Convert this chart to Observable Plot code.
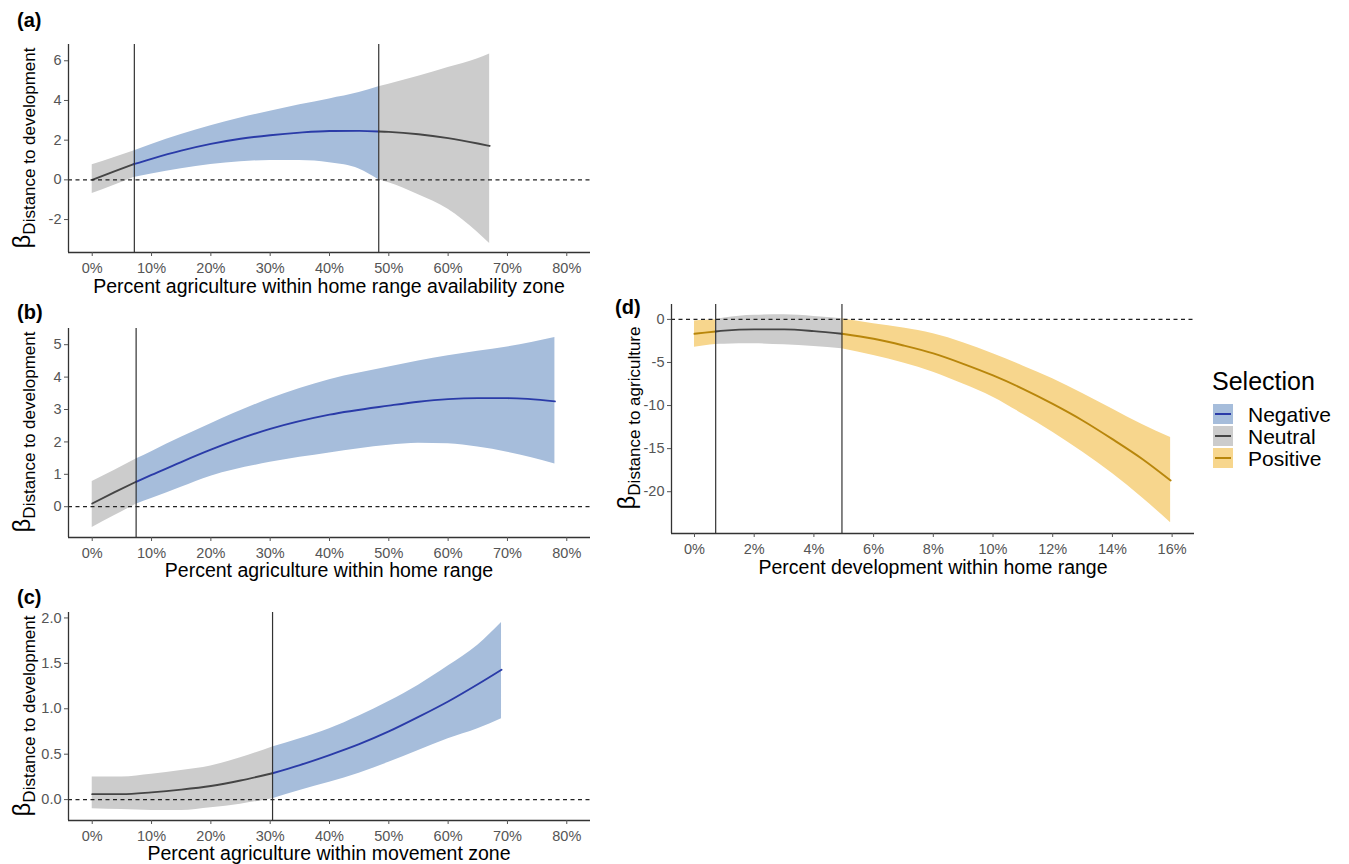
<!DOCTYPE html>
<html>
<head>
<meta charset="utf-8">
<script src="https://cdn.jsdelivr.net/npm/d3@7"></script>
<script src="https://cdn.jsdelivr.net/npm/@observablehq/plot@0.6"></script>
<style>
  html, body { margin: 0; padding: 0; background: #fff; }
  #root { position: relative; width: 1349px; height: 864px; font-family: "Liberation Sans", Arial, sans-serif; overflow: hidden; }
  #root svg { position: absolute; background: none !important; }
  .lbl { position: absolute; white-space: nowrap; line-height: 1; color: #000; }
  .ptag { font-weight: bold; font-size: 20px; }
  .xt { font-size: 19.5px; transform: translate(-50%, -50%); }
  .yt { transform: translate(-50%, -50%) rotate(-90deg); }
  .yt .b { font-size: 24px; }
  .yt .s { font-size: 17px; position: relative; top: 5px; }
</style>
</head>
<body>
<div id="root"></div>
<script>
// ---------------- data ----------------
const selections = ["Negative", "Neutral", "Positive"];
const bandColors = ["#A6BDDB", "#CCCCCC", "#F7D68D"];
const lineColors = ["#2A3BA8", "#454545", "#B8860B"];

// Panel (a): Percent agriculture within home range availability zone
const aX   = [0, 0.035, 0.07, 0.07, 0.10, 0.15, 0.20, 0.25, 0.30, 0.35, 0.40, 0.45, 0.483, 0.483, 0.50, 0.55, 0.60, 0.65, 0.67];
const aFit = [0.00, 0.40, 0.79, 0.79, 1.06, 1.47, 1.81, 2.07, 2.25, 2.38, 2.46, 2.47, 2.44, 2.44, 2.42, 2.30, 2.10, 1.83, 1.71];
const aLo  = [-0.69, -0.30, 0.12, 0.12, 0.29, 0.56, 0.77, 0.91, 0.98, 0.97, 0.86, 0.55, 0.00, 0.00, -0.15, -0.75, -1.48, -2.65, -3.21];
const aHi  = [0.76, 1.10, 1.46, 1.46, 1.78, 2.28, 2.72, 3.12, 3.46, 3.78, 4.08, 4.40, 4.69, 4.69, 4.82, 5.22, 5.66, 6.10, 6.34];
const aSel = ["Neutral","Neutral","Neutral","Negative","Negative","Negative","Negative","Negative","Negative","Negative","Negative","Negative","Negative","Neutral","Neutral","Neutral","Neutral","Neutral","Neutral"];
const aCuts = [0.071, 0.483];
const aYTicks = [-2, 0, 2, 4, 6];

// Panel (b): Percent agriculture within home range
const bX   = [0, 0.037, 0.074, 0.074, 0.10, 0.15, 0.20, 0.30, 0.40, 0.50, 0.55, 0.60, 0.65, 0.70, 0.78];
const bFit = [0.10, 0.44, 0.77, 0.77, 0.98, 1.38, 1.76, 2.40, 2.84, 3.12, 3.24, 3.32, 3.35, 3.35, 3.25];
const bLo  = [-0.64, -0.28, 0.08, 0.08, 0.25, 0.60, 0.94, 1.37, 1.66, 1.90, 1.96, 1.94, 1.84, 1.68, 1.32];
const bHi  = [0.78, 1.12, 1.47, 1.47, 1.70, 2.14, 2.56, 3.33, 3.92, 4.31, 4.50, 4.66, 4.80, 4.93, 5.22];
const bSel = ["Neutral","Neutral","Neutral","Negative","Negative","Negative","Negative","Negative","Negative","Negative","Negative","Negative","Negative","Negative","Negative"];
const bCuts = [0.074];
const bYTicks = [0, 1, 2, 3, 4, 5];

// Panel (c): Percent agriculture within movement zone
const cX   = [0, 0.05, 0.10, 0.15, 0.20, 0.25, 0.304, 0.304, 0.35, 0.40, 0.45, 0.50, 0.55, 0.60, 0.65, 0.69];
const cFit = [0.06, 0.06, 0.08, 0.11, 0.15, 0.21, 0.29, 0.29, 0.38, 0.49, 0.61, 0.75, 0.91, 1.08, 1.27, 1.43];
const cLo  = [-0.10, -0.11, -0.12, -0.12, -0.09, -0.05, 0.01, 0.01, 0.10, 0.19, 0.29, 0.41, 0.54, 0.67, 0.78, 0.89];
const cHi  = [0.25, 0.25, 0.28, 0.32, 0.37, 0.46, 0.58, 0.58, 0.67, 0.78, 0.92, 1.08, 1.26, 1.47, 1.70, 1.95];
const cSel = ["Neutral","Neutral","Neutral","Neutral","Neutral","Neutral","Neutral","Negative","Negative","Negative","Negative","Negative","Negative","Negative","Negative","Negative"];
const cCuts = [0.304];
const cYTicks = [0, 0.5, 1.0, 1.5, 2.0];

// Panel (d): Percent development within home range
const dX   = [0, 0.0035, 0.0071, 0.0071, 0.01, 0.02, 0.03, 0.04, 0.0494, 0.0494, 0.06, 0.07, 0.08, 0.09, 0.10, 0.11, 0.12, 0.13, 0.14, 0.15, 0.1595];
const dFit = [-1.67, -1.53, -1.40, -1.40, -1.30, -1.16, -1.16, -1.36, -1.67, -1.67, -2.25, -3.03, -3.95, -5.16, -6.51, -8.06, -9.81, -11.73, -13.9, -16.2, -18.7];
const dLo  = [-3.22, -3.05, -2.91, -2.91, -2.88, -2.83, -2.95, -3.14, -3.41, -3.41, -4.19, -5.05, -6.12, -7.50, -9.03, -11.0, -13.1, -15.4, -17.9, -20.7, -23.6];
const dHi  = [-0.19, -0.10, -0.04, -0.04, 0.15, 0.47, 0.54, 0.35, 0.08, 0.08, -0.50, -1.00, -1.67, -2.70, -3.99, -5.40, -6.90, -8.60, -10.4, -12.2, -13.7];
const dSel = ["Positive","Positive","Positive","Neutral","Neutral","Neutral","Neutral","Neutral","Neutral","Positive","Positive","Positive","Positive","Positive","Positive","Positive","Positive","Positive","Positive","Positive","Positive"];
const dCuts = [0.0071, 0.0494];
const dYTicks = [-20, -15, -10, -5, 0];

const pctTicks80 = [0, 0.1, 0.2, 0.3, 0.4, 0.5, 0.6, 0.7, 0.8];
const pctTicks16 = [0, 0.02, 0.04, 0.06, 0.08, 0.10, 0.12, 0.14, 0.16];

// ---------------- helpers ----------------
function rowsOf(X, F, L, H, S) {
  let seg = 0;
  return X.map((x, i) => {
    if (i > 0 && S[i] !== S[i - 1]) seg++;
    const k = selections.indexOf(S[i]);
    return {x, fit: F[i], lo: L[i], hi: H[i], sel: S[i], seg, band: bandColors[k], line: lineColors[k]};
  });
}
const pctFmt = d => Math.round(d * 100) + "%";

function panel({rows, cuts, xDomain, yDomain, xTicks, yTicks, yFmt, width, height, mL, mR, mT, mB}) {
  return Plot.plot({
    width, height,
    marginLeft: mL, marginRight: mR, marginTop: mT, marginBottom: mB,
    style: {fontFamily: "Liberation Sans, Arial, sans-serif", fontSize: "14.5px", background: "none", overflow: "visible"},
    x: {domain: xDomain, label: null},
    y: {domain: yDomain, label: null},
    color: {type: "identity"},
    marks: [
      Plot.areaY(rows, {x: "x", y1: "lo", y2: "hi", z: "seg", fill: "band", curve: "monotone-x"}),
      Plot.lineY(rows, {x: "x", y: "fit", z: "seg", stroke: "line", strokeWidth: 1.9, curve: "monotone-x"}),
      Plot.ruleX(cuts, {stroke: "#333", strokeWidth: 1.2}),
      Plot.ruleY([0], {stroke: "#222", strokeWidth: 1.2, strokeDasharray: "4,3.5"}),
      Plot.ruleX([xDomain[0]], {stroke: "#333", strokeWidth: 1.3}),
      Plot.ruleY([yDomain[0]], {stroke: "#333", strokeWidth: 1.3}),
      Plot.axisX({ticks: xTicks, tickFormat: pctFmt, tickSize: 4, tickPadding: 6, color: "#555", label: null}),
      Plot.axisY({ticks: yTicks, tickFormat: yFmt, tickSize: 4, tickPadding: 3, color: "#555", label: null})
    ]
  });
}

const root = document.getElementById("root");
function place(svg, left, top) {
  svg.style.left = left + "px";
  svg.style.top = top + "px";
  root.appendChild(svg);
}
function addLabel(cls, html, left, top) {
  const el = document.createElement("div");
  el.className = "lbl " + cls;
  el.innerHTML = html;
  el.style.left = left + "px";
  el.style.top = top + "px";
  root.appendChild(el);
  return el;
}

// ---------------- panels ----------------
const intFmt = d => String(d);
const decFmt = d => d.toFixed(1);

place(panel({rows: rowsOf(aX, aFit, aLo, aHi, aSel), cuts: aCuts, xDomain: [-0.04, 0.84], yDomain: [-3.66, 6.82],
  xTicks: pctTicks80, yTicks: aYTicks, yFmt: intFmt, width: 600, height: 250, mL: 68, mR: 10, mT: 14, mB: 28}), 0, 30);

place(panel({rows: rowsOf(bX, bFit, bLo, bHi, bSel), cuts: bCuts, xDomain: [-0.04, 0.84], yDomain: [-0.95, 5.50],
  xTicks: pctTicks80, yTicks: bYTicks, yFmt: intFmt, width: 600, height: 250, mL: 68, mR: 10, mT: 14, mB: 27}), 0, 314);

place(panel({rows: rowsOf(cX, cFit, cLo, cHi, cSel), cuts: cCuts, xDomain: [-0.04, 0.84], yDomain: [-0.23, 2.06],
  xTicks: pctTicks80, yTicks: cYTicks, yFmt: decFmt, width: 600, height: 250, mL: 68, mR: 10, mT: 14, mB: 28}), 0, 598);

place(panel({rows: rowsOf(dX, dFit, dLo, dHi, dSel), cuts: dCuts, xDomain: [-0.0077, 0.1675], yDomain: [-24.85, 1.73],
  xTicks: pctTicks16, yTicks: dYTicks, yFmt: intFmt, width: 604, height: 270, mL: 71, mR: 10, mT: 14, mB: 27}), 600, 290);

// ---------------- text ----------------
addLabel("ptag", "(a)", 17, 10);
addLabel("ptag", "(b)", 17, 302);
addLabel("ptag", "(c)", 17, 587);
addLabel("ptag", "(d)", 615, 297);

addLabel("xt", "Percent agriculture within home range availability zone", 329, 287);
addLabel("xt", "Percent agriculture within home range", 329, 571);
addLabel("xt", "Percent agriculture within movement zone", 329, 854);
addLabel("xt", "Percent development within home range", 933, 568);

const yDev = '<span class="b">β</span><span class="s">Distance to development</span>';
const yAgr = '<span class="b">β</span><span class="s">Distance to agriculture</span>';
addLabel("yt", yDev, 22, 148);
addLabel("yt", yDev, 22, 432);
addLabel("yt", yDev, 22, 716);
addLabel("yt", yAgr, 627, 418);

// legend
addLabel("", '<span style="font-size:25px">Selection</span>', 1212, 369);
selections.forEach((s, i) => {
  const top = 404 + i * 22;
  const key = document.createElement("div");
  key.style.cssText = `position:absolute;left:1213px;top:${top}px;width:20px;height:20px;background:${bandColors[i]};`;
  const ln = document.createElement("div");
  ln.style.cssText = `position:absolute;left:2px;right:2px;top:9px;height:2px;background:${lineColors[i]};`;
  key.appendChild(ln);
  root.appendChild(key);
  const t = addLabel("", s, 1248, top + 10);
  t.style.fontSize = "21px";
  t.style.transform = "translateY(-50%)";
});
</script>
</body>
</html>
